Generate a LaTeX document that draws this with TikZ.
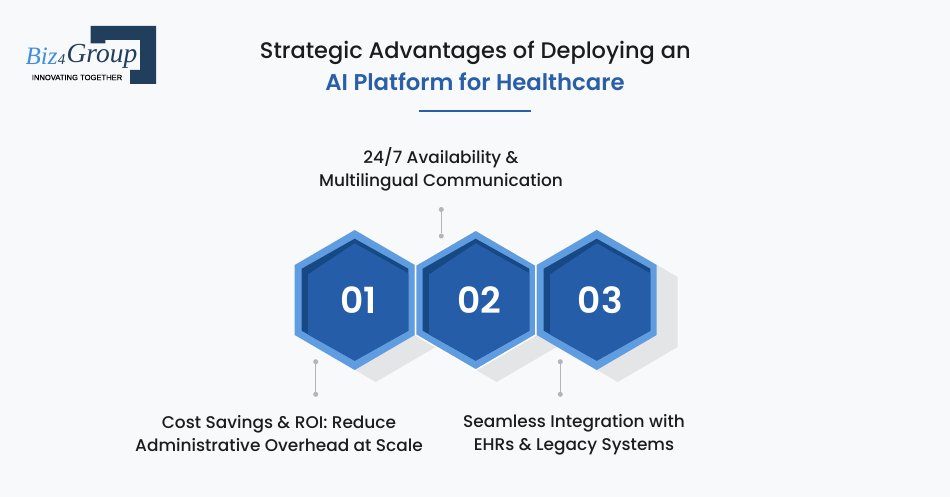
\documentclass[tikz,border=0pt]{standalone}
\usepackage{fontspec}
\setmainfont{Poppins}
\newfontfamily\headfont{Poppins Medium}
\newfontfamily\leadfont{Poppins SemiBold}
\newfontfamily\logofont{Liberation Serif}
\newfontfamily\tagfont[FakeBold=0.4]{Liberation Sans}
\definecolor{pagebg}{HTML}{F8F9FB}
\definecolor{inkdark}{HTML}{1C1C1C}
\definecolor{titleblue}{HTML}{2A5FA8}
\definecolor{hexrim}{HTML}{5F9DE0}
\definecolor{hexdark}{HTML}{174A84}
\definecolor{hexface}{HTML}{265DA8}
\definecolor{hexshade}{HTML}{E4E5E7}
\definecolor{stemgrey}{HTML}{B4B5B7}
\definecolor{logonavy}{HTML}{213E5C}
\definecolor{logoblue}{HTML}{3F8FDC}
\tikzset{
  label/.style={font=\fontsize{16.95}{23}\selectfont\headfont, text=inkdark, align=center},
  numeral/.style={font=\fontsize{36}{36}\selectfont\leadfont, text=white},
  dot/.style={circle, fill=stemgrey, inner sep=0pt, minimum size=5pt},
  stem/.style={stemgrey, line width=1.2pt}
}
\newcommand{\hexpath}[1]{(#1,230) -- ++(60,35) -- ++(0,70) -- ++(-60,35) -- ++(-60,-35) -- ++(0,-70) -- cycle}
\begin{document}
\begin{tikzpicture}[x=1pt,y=-1pt]
  \useasboundingbox (0,0) rectangle (950,497);
  \fill[pagebg] (0,0) rectangle (950,497);
  % logo
  \fill[logonavy] (90.7,26) -- (156,26) -- (156,84) -- (130,84) -- (130,70) -- (140,70) -- (140,40) -- (105.3,40) -- (105.3,43.5) -- (90.7,43.5) -- cycle;
  \node at (41.5,56.5) [inner sep=0pt, font=\fontsize{25}{25}\selectfont\logofont\itshape, text=logoblue] (bizword) {Biz};
  \node at (61.5,60) [inner sep=0pt, font=\fontsize{15}{15}\selectfont\logofont\itshape, text=logonavy] (fourword) {4};
  \node at (102,56) [inner sep=0pt, font=\fontsize{27.5}{27.5}\selectfont\logofont\itshape, text=logonavy] (groupword) {Group};
  \node at (77,77.5) [font=\fontsize{7.6}{8}\selectfont\tagfont, text=black] (tagword) {INNOVATING TOGETHER};
  % heading
  \node at (475.3,53) [font=\fontsize{22.5}{26}\selectfont\headfont, text=inkdark] (titletop) {Strategic Advantages of Deploying an};
  \node at (475,81.5) [font=\fontsize{22.8}{26}\selectfont\leadfont, text=titleblue] (titlelow) {AI Platform for Healthcare};
  \coordinate (ruleleft) at (419,111);
  \coordinate (ruleright) at (531,111);
  \draw[titleblue, line width=1.6pt] (ruleleft) -- (ruleright);
  % shadows
  \foreach \cx in {354.7,475.7,596.7}
    \fill[hexshade, shift={(21,12)}] \hexpath{\cx};
  % hexagons
  \foreach \cx/\num/\edge in {354.7/01/none,596.7/03/none,475.7/02/white} {
    \fill[hexrim, draw=\edge, line width=1.4pt] \hexpath{\cx};
    \fill[hexdark] (\cx,238.7) -- ++(53.6,30) -- ++(0,62) -- ++(-53.6,30) -- ++(-53,-30) -- ++(0,-62) -- cycle;
    \fill[hexface] (\cx,243.3) -- ++(53.6,30) -- ++(0,57.4) -- ++(-53.6,30) -- ++(-46.7,-26.2) -- ++(0,-60) -- cycle;
    \node at (\cx+3.5,300) [numeral] (num\num) {\num};
  }
  % labels
  \node at (441,169) [label] (availtext) {24/7 Availability \&\\Multilingual Communication};
  \node at (279,434) [label] (costtext) {Cost Savings \& ROI: Reduce\\Administrative Overhead at Scale};
  \node at (574,435) [label] (seamtext) {Seamless Integration with\\EHRs \& Legacy Systems};
  % stems
  \node at (441.3,209.5) [dot] (availtop) {};
  \node at (441.3,236) [dot] (availend) {};
  \node at (315.7,361.7) [dot] (costtop) {};
  \node at (315.7,394.3) [dot] (costend) {};
  \node at (560.3,361.7) [dot] (seamtop) {};
  \node at (560.3,394.3) [dot] (seamend) {};
  \draw[stem] (availtop) -- (availend);
  \draw[stem] (costtop) -- (costend);
  \draw[stem] (seamtop) -- (seamend);
\end{tikzpicture}
\end{document}
